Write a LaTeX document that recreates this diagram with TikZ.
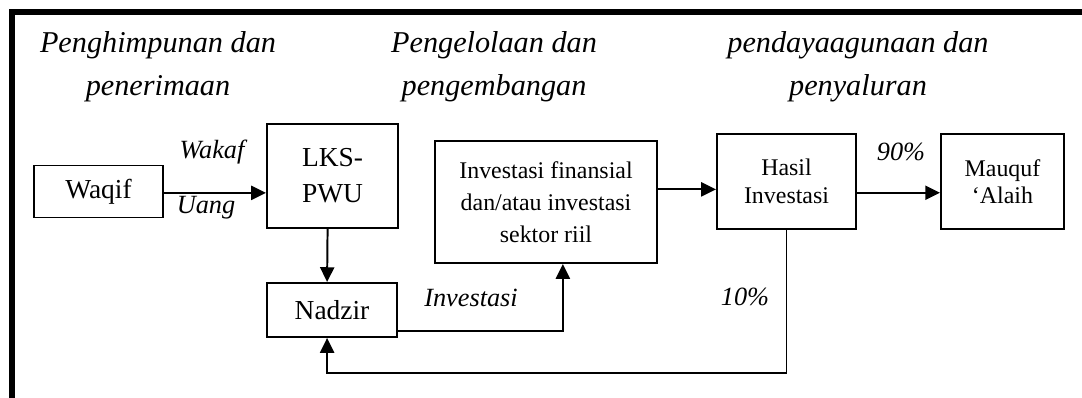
\documentclass[tikz,border=0pt]{standalone}
\usepackage{fontspec}
\setmainfont{Liberation Serif}
\usetikzlibrary{arrows.meta}

\tikzset{
  kotak/.style={shape=rectangle,draw=black,line width=1.4pt,inner sep=0pt,align=center,
    font=\fontsize{19.5}{25.6}\selectfont},
  kotakkecil/.style={kotak,font=\fontsize{17}{19.5}\selectfont},
  judul/.style={align=center,font=\fontsize{21.5}{30.6}\selectfont\itshape},
  ket/.style={font=\fontsize{18.7}{22}\selectfont\itshape},
  panah/.style={line width=1.4pt,-{Triangle[length=10.5pt,width=10pt]}},
}

\begin{document}
\begin{tikzpicture}[x=0.025cm,y=-0.025cm]
    \useasboundingbox (0,0) rectangle (1082,398);
    \draw[line width=3.6pt] (1082,12) -- (12,12) -- (12,398);

    % tahapan
    \node[judul] (J1) at (158,67) {Penghimpunan dan\\penerimaan};
    \node[judul] (J2) at (494,67) {Pengelolaan dan\\pengembangan};
    \node[judul] (J3) at (858,67) {pendayaagunaan dan\\penyaluran};

    % kotak
    \node[kotak,minimum width=3.225cm,minimum height=1.3cm] (W) at (98.5,191.5) {Waqif};
    \node[kotak,minimum width=3.275cm,minimum height=2.6cm] (L) at (332.5,176) {LKS-\\PWU};
    \node[kotak,minimum width=3.25cm,minimum height=1.35cm] (N) at (332,310) {Nadzir};
    \node[kotakkecil,font=\fontsize{17}{22.8}\selectfont,minimum width=5.55cm,minimum height=3.05cm] (I) at (546,202) {Investasi finansial\\dan/atau investasi\\sektor riil};
    \node[kotakkecil,minimum width=3.475cm,minimum height=2.375cm] (H) at (786.5,181.5) {Hasil\\Investasi};
    \node[kotakkecil,minimum width=3.075cm,minimum height=2.375cm] (M) at (1002.5,181.5) {Mauquf\\‘Alaih};
    \coordinate (B) at (786.5,373);

    % keterangan
    \node[ket] (k1) at (212,152) {Wakaf};
    \node[ket] (k2) at (206,208) {Uang};
    \node[ket] (k3) at (471,298) {Investasi};
    \node[ket] (k4) at (901,152) {90\%};
    \node[ket] (k5) at (745,297) {10\%};

    % panah
    \draw[panah] ([yshift=-1pt]W.east) -- ([yshift=-1pt]W.east -| L.west);
    \draw[panah] ([xshift=-3.5pt]L.south) -- ([xshift=-3.5pt]N.north);
    \draw[panah] ([yshift=5pt]N.south east) -| ([xshift=12pt]I.south);
    \draw[panah] ([yshift=9pt]I.east) -- ([yshift=9pt]I.east -| H.west);
    \draw[panah] ([yshift=-8pt]H.east) -- ([yshift=-8pt]H.east -| M.west);
    \draw[panah] (H.south) -- (B) -| ([xshift=-3.5pt]N.south);
\end{tikzpicture}
\end{document}
